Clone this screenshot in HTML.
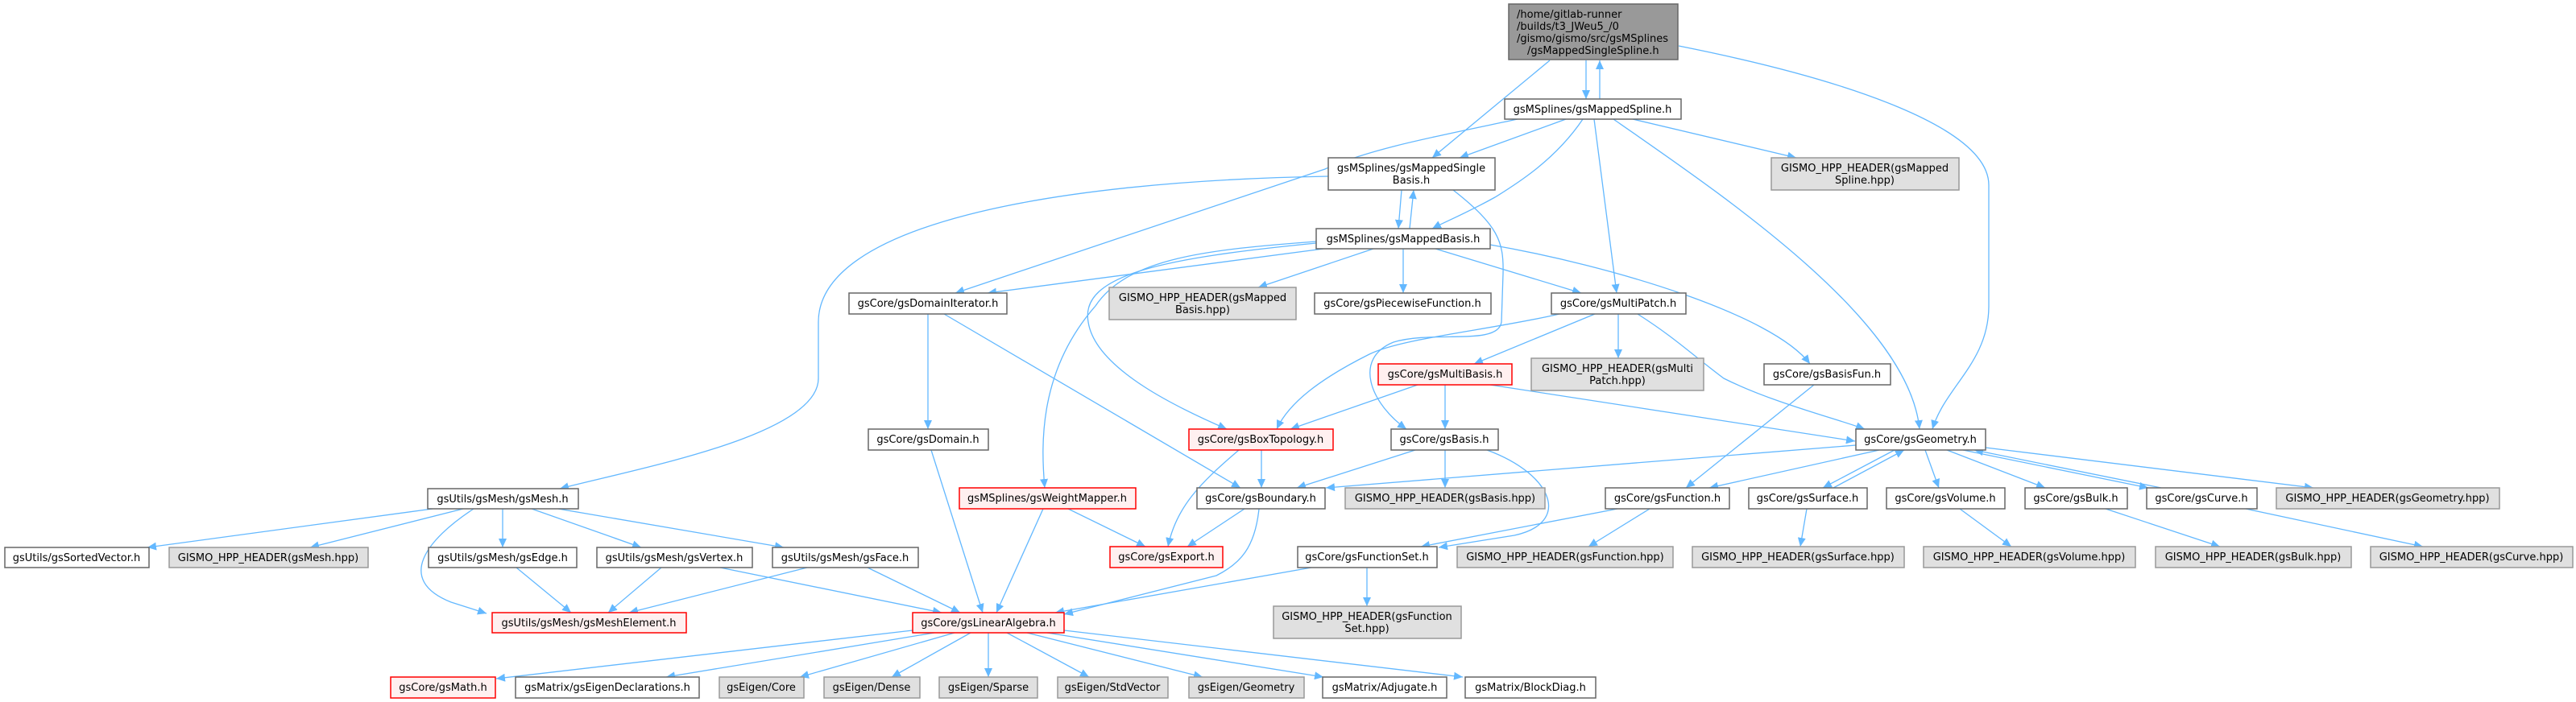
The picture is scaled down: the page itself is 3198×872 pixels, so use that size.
<!DOCTYPE html>
<html><head><meta charset="utf-8"><style>
html,body{margin:0;padding:0;background:#fff;}
svg{display:block;}
text{font-family:"DejaVu Sans","Liberation Sans",sans-serif;font-size:13px;fill:#000;}
.n rect{fill:#fff;stroke:#666;stroke-width:1.5;}
.r rect{fill:#fff0f0;stroke:#ff0000;stroke-width:1.5;}
.g rect{fill:#e0e0e0;stroke:#999;stroke-width:1.5;}
.e{fill:none;stroke:#63b8ff;stroke-width:1.3;}
</style></head><body>
<svg width="3198" height="872" viewBox="0 0 3198 872" xmlns="http://www.w3.org/2000/svg">
<defs>
<marker id="a" markerWidth="12" markerHeight="10" refX="11" refY="5" orient="auto" markerUnits="userSpaceOnUse">
<path d="M0,0 L11,5 L0,10 z" fill="#63b8ff"/></marker>
</defs>
<g class="e" marker-end="url(#a)">
<path d="M1924,75 L1778,196"/>
<path d="M1969,75 L1969,123"/>
<path d="M1986,123 L1986,75"/>
<path d="M2084,57 C2300,100 2469,160 2469,230 L2469,380 C2469,450 2415,480 2399,533"/>
<path d="M1884,148 C1780,170 1700,185 1645,210 L1186,364"/>
<path d="M1944,148 L1812,196"/>
<path d="M1965,148 C1930,200 1880,230 1856,245 C1820,265 1795,275 1778,284"/>
<path d="M1979,148 L2007,364"/>
<path d="M2003,148 C2150,250 2370,400 2383,533"/>
<path d="M2027,148 L2230,196"/>
<path d="M1740,236 L1736,284"/>
<path d="M1750,284 L1755,236"/>
<path d="M1649,219 C1300,225 1016,280 1016,400 L1016,470 C1016,540 800,580 695,607"/>
<path d="M1804,236 C1860,280 1867,300 1866,340 L1864,400 C1860,430 1780,410 1730,425 C1680,445 1700,500 1746,533"/>
<path d="M1643,309 L1226,364"/>
<path d="M1705,309 L1562,357"/>
<path d="M1742,309 L1742,364"/>
<path d="M1782,309 L1963,364"/>
<path d="M1850,304 C2000,330 2200,390 2247,452"/>
<path d="M1634,300 C1500,310 1400,320 1360,380 C1290,460 1292,550 1297,606"/>
<path d="M1634,302 C1450,320 1340,340 1351,400 C1360,460 1470,510 1523,533"/>
<path d="M1172,390 L1540,606"/>
<path d="M1152,390 L1152,533"/>
<path d="M1156,559 L1220,761"/>
<path d="M1936,390 C1850,410 1740,420 1700,440 C1640,470 1600,500 1585,533"/>
<path d="M1980,390 L1830,452"/>
<path d="M2009,390 L2009,445"/>
<path d="M2033,390 C2080,420 2100,440 2140,470 C2200,500 2280,520 2315,533"/>
<path d="M1760,478 L1602,533"/>
<path d="M1794,478 L1794,533"/>
<path d="M1850,478 L2303,548"/>
<path d="M2252,478 L2093,606"/>
<path d="M1566,559 L1566,606"/>
<path d="M1538,559 C1490,600 1460,630 1450,679"/>
<path d="M1757,559 L1610,606"/>
<path d="M1794,559 L1794,606"/>
<path d="M1846,559 C1930,590 1950,650 1880,665 L1786,680"/>
<path d="M2304,553 L1646,606"/>
<path d="M2333,559 L2122,606"/>
<path d="M2352,559 L2263,606"/>
<path d="M2276,606 L2364,559"/>
<path d="M2390,559 L2407,606"/>
<path d="M2417,559 L2539,606"/>
<path d="M2437,559 L2667,606"/>
<path d="M2683,606 L2451,559"/>
<path d="M2465,556 L2872,606"/>
<path d="M2243,632 L2235,679"/>
<path d="M2433,632 L2497,679"/>
<path d="M2614,632 L2756,679"/>
<path d="M2788,632 L3008,679"/>
<path d="M2008,632 L1764,679"/>
<path d="M2048,632 L1972,679"/>
<path d="M1697,705 L1697,753"/>
<path d="M1628,705 L1310,761"/>
<path d="M1545,632 L1474,679"/>
<path d="M1563,632 C1558,680 1540,700 1510,715 L1321,763"/>
<path d="M1326,632 L1422,679"/>
<path d="M1295,632 L1237,761"/>
<path d="M1077,705 L1192,761"/>
<path d="M894,705 L1169,761"/>
<path d="M821,705 L755,761"/>
<path d="M641,705 L709,761"/>
<path d="M1002,705 L781,761"/>
<path d="M588,632 C530,670 490,720 560,748 L604,762"/>
<path d="M537,632 L183,680"/>
<path d="M575,632 L385,680"/>
<path d="M624,632 L624,680"/>
<path d="M660,632 L796,680"/>
<path d="M693,632 L973,680"/>
<path d="M1133,783 L616,843"/>
<path d="M1160,786 L827,841"/>
<path d="M1185,786 L993,841"/>
<path d="M1205,786 L1107,841"/>
<path d="M1227,786 L1227,841"/>
<path d="M1250,786 L1352,841"/>
<path d="M1275,786 L1493,841"/>
<path d="M1300,786 L1643,841"/>
<path d="M1321,783 L1816,841"/>
</g>

<g><rect x="1873" y="5" width="210" height="69" fill="#999" stroke="#666" stroke-width="1.5"/>
<text x="1883" y="22">/home/gitlab-runner</text>
<text x="1883" y="37">/builds/t3_JWeu5_/0</text>
<text x="1883" y="52">/gismo/gismo/src/gsMSplines</text>
<text x="1896" y="67">/gsMappedSingleSpline.h</text></g>

<g text-anchor="middle">
<g class="n"><rect x="1868" y="123" width="219" height="25"/><text x="1977" y="140">gsMSplines/gsMappedSpline.h</text></g>
<g class="n"><rect x="1649" y="196" width="207" height="40"/><text x="1752" y="213">gsMSplines/gsMappedSingle</text><text x="1752" y="228">Basis.h</text></g>
<g class="g"><rect x="2199" y="196" width="233" height="40"/><text x="2315" y="213">GISMO_HPP_HEADER(gsMapped</text><text x="2315" y="228">Spline.hpp)</text></g>
<g class="n"><rect x="1634" y="284" width="216" height="25"/><text x="1742" y="301">gsMSplines/gsMappedBasis.h</text></g>
<g class="n"><rect x="1054" y="364" width="196" height="26"/><text x="1152" y="381">gsCore/gsDomainIterator.h</text></g>
<g class="g"><rect x="1377" y="357" width="232" height="40"/><text x="1493" y="374">GISMO_HPP_HEADER(gsMapped</text><text x="1493" y="389">Basis.hpp)</text></g>
<g class="n"><rect x="1632" y="364" width="219" height="26"/><text x="1741" y="381">gsCore/gsPiecewiseFunction.h</text></g>
<g class="n"><rect x="1926" y="364" width="167" height="26"/><text x="2009" y="381">gsCore/gsMultiPatch.h</text></g>
<g class="r"><rect x="1711" y="452" width="166" height="26"/><text x="1794" y="469">gsCore/gsMultiBasis.h</text></g>
<g class="g"><rect x="1901" y="445" width="214" height="40"/><text x="2008" y="462">GISMO_HPP_HEADER(gsMulti</text><text x="2008" y="477">Patch.hpp)</text></g>
<g class="n"><rect x="2190" y="452" width="157" height="26"/><text x="2268" y="469">gsCore/gsBasisFun.h</text></g>
<g class="n"><rect x="1078" y="533" width="149" height="26"/><text x="1152" y="550">gsCore/gsDomain.h</text></g>
<g class="r"><rect x="1476" y="533" width="179" height="26"/><text x="1565" y="550">gsCore/gsBoxTopology.h</text></g>
<g class="n"><rect x="1727" y="533" width="133" height="26"/><text x="1793" y="550">gsCore/gsBasis.h</text></g>
<g class="n"><rect x="2304" y="533" width="161" height="26"/><text x="2384" y="550">gsCore/gsGeometry.h</text></g>
<g class="n"><rect x="531" y="607" width="187" height="25"/><text x="624" y="624">gsUtils/gsMesh/gsMesh.h</text></g>
<g class="r"><rect x="1191" y="606" width="219" height="26"/><text x="1300" y="623">gsMSplines/gsWeightMapper.h</text></g>
<g class="n"><rect x="1486" y="606" width="159" height="26"/><text x="1565" y="623">gsCore/gsBoundary.h</text></g>
<g class="g"><rect x="1670" y="606" width="248" height="26"/><text x="1794" y="623">GISMO_HPP_HEADER(gsBasis.hpp)</text></g>
<g class="n"><rect x="1993" y="606" width="154" height="26"/><text x="2070" y="623">gsCore/gsFunction.h</text></g>
<g class="n"><rect x="2171" y="606" width="147" height="26"/><text x="2244" y="623">gsCore/gsSurface.h</text></g>
<g class="n"><rect x="2342" y="606" width="147" height="26"/><text x="2415" y="623">gsCore/gsVolume.h</text></g>
<g class="n"><rect x="2514" y="606" width="127" height="26"/><text x="2577" y="623">gsCore/gsBulk.h</text></g>
<g class="n"><rect x="2665" y="606" width="137" height="26"/><text x="2733" y="623">gsCore/gsCurve.h</text></g>
<g class="g"><rect x="2826" y="606" width="277" height="26"/><text x="2964" y="623">GISMO_HPP_HEADER(gsGeometry.hpp)</text></g>
<g class="n"><rect x="6" y="680" width="179" height="25"/><text x="95" y="697">gsUtils/gsSortedVector.h</text></g>
<g class="g"><rect x="210" y="680" width="247" height="25"/><text x="333" y="697">GISMO_HPP_HEADER(gsMesh.hpp)</text></g>
<g class="n"><rect x="532" y="680" width="184" height="25"/><text x="624" y="697">gsUtils/gsMesh/gsEdge.h</text></g>
<g class="n"><rect x="741" y="680" width="193" height="25"/><text x="837" y="697">gsUtils/gsMesh/gsVertex.h</text></g>
<g class="n"><rect x="959" y="680" width="181" height="25"/><text x="1049" y="697">gsUtils/gsMesh/gsFace.h</text></g>
<g class="r"><rect x="1378" y="679" width="140" height="26"/><text x="1448" y="696">gsCore/gsExport.h</text></g>
<g class="n"><rect x="1611" y="679" width="173" height="26"/><text x="1697" y="696">gsCore/gsFunctionSet.h</text></g>
<g class="g"><rect x="1809" y="679" width="268" height="26"/><text x="1943" y="696">GISMO_HPP_HEADER(gsFunction.hpp)</text></g>
<g class="g"><rect x="2101" y="679" width="263" height="26"/><text x="2232" y="696">GISMO_HPP_HEADER(gsSurface.hpp)</text></g>
<g class="g"><rect x="2388" y="679" width="263" height="26"/><text x="2519" y="696">GISMO_HPP_HEADER(gsVolume.hpp)</text></g>
<g class="g"><rect x="2676" y="679" width="243" height="26"/><text x="2797" y="696">GISMO_HPP_HEADER(gsBulk.hpp)</text></g>
<g class="g"><rect x="2943" y="679" width="251" height="26"/><text x="3068" y="696">GISMO_HPP_HEADER(gsCurve.hpp)</text></g>
<g class="r"><rect x="611" y="761" width="241" height="25"/><text x="731" y="778">gsUtils/gsMesh/gsMeshElement.h</text></g>
<g class="r"><rect x="1133" y="761" width="188" height="25"/><text x="1227" y="778">gsCore/gsLinearAlgebra.h</text></g>
<g class="g"><rect x="1581" y="753" width="233" height="40"/><text x="1697" y="770">GISMO_HPP_HEADER(gsFunction</text><text x="1697" y="785">Set.hpp)</text></g>
<g class="r"><rect x="485" y="841" width="130" height="26"/><text x="550" y="858">gsCore/gsMath.h</text></g>
<g class="n"><rect x="640" y="841" width="228" height="26"/><text x="754" y="858">gsMatrix/gsEigenDeclarations.h</text></g>
<g class="g"><rect x="893" y="841" width="105" height="26"/><text x="945" y="858">gsEigen/Core</text></g>
<g class="g"><rect x="1023" y="841" width="119" height="26"/><text x="1082" y="858">gsEigen/Dense</text></g>
<g class="g"><rect x="1166" y="841" width="122" height="26"/><text x="1227" y="858">gsEigen/Sparse</text></g>
<g class="g"><rect x="1313" y="841" width="137" height="26"/><text x="1381" y="858">gsEigen/StdVector</text></g>
<g class="g"><rect x="1476" y="841" width="143" height="26"/><text x="1547" y="858">gsEigen/Geometry</text></g>
<g class="n"><rect x="1642" y="841" width="154" height="26"/><text x="1719" y="858">gsMatrix/Adjugate.h</text></g>
<g class="n"><rect x="1819" y="841" width="162" height="26"/><text x="1900" y="858">gsMatrix/BlockDiag.h</text></g>
</g>
</svg>
</body></html>
